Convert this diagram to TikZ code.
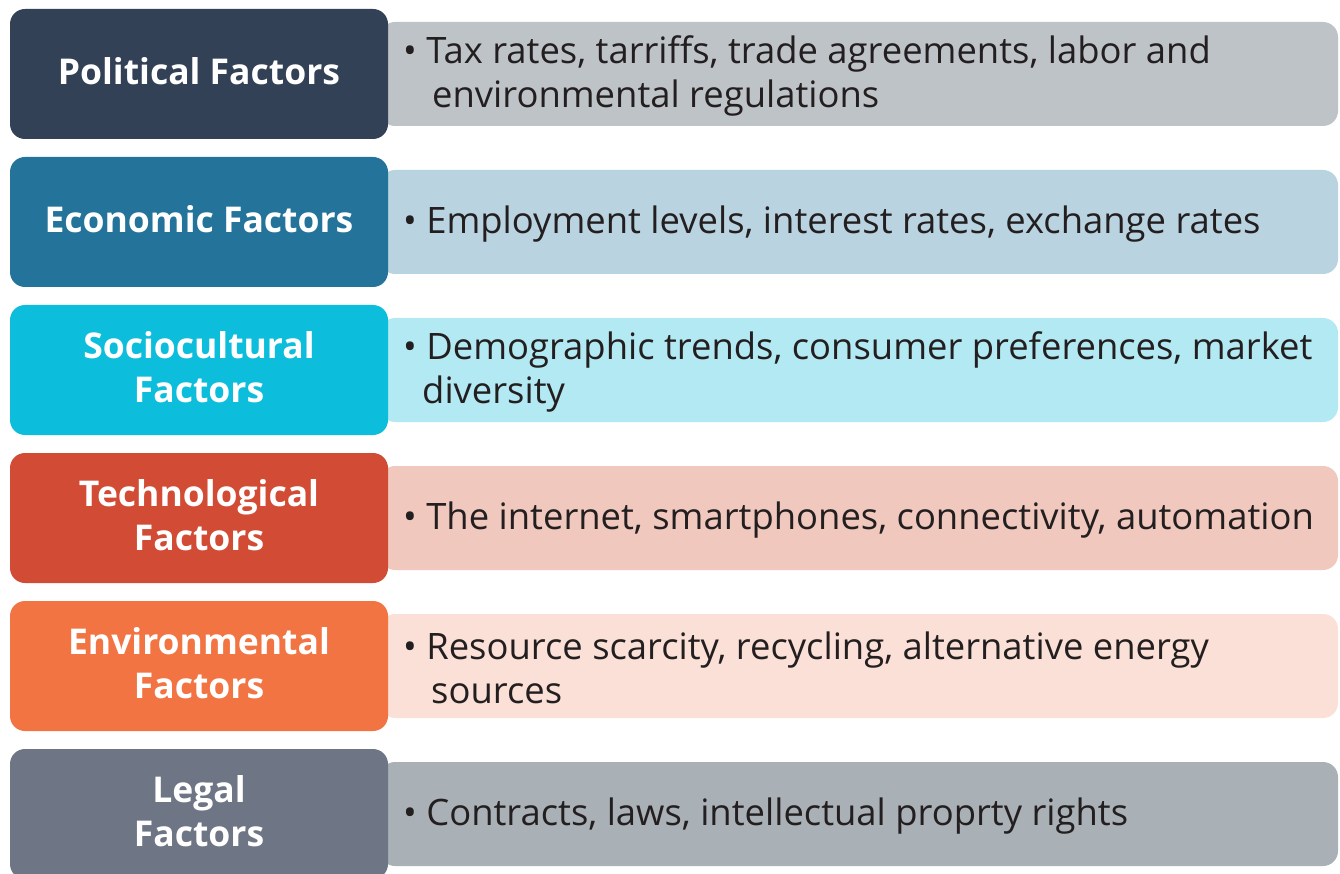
\documentclass[tikz,border=0pt]{standalone}
\usepackage{fontspec}
\setmainfont{Open Sans}
\definecolor{polDark}{HTML}{334156}
\definecolor{polLight}{HTML}{BEC3C7}
\definecolor{ecoDark}{HTML}{23739A}
\definecolor{ecoLight}{HTML}{B9D3E0}
\definecolor{socDark}{HTML}{0DBEDC}
\definecolor{socLight}{HTML}{B3E9F3}
\definecolor{tecDark}{HTML}{D24B34}
\definecolor{tecLight}{HTML}{F0C8BD}
\definecolor{envDark}{HTML}{F27442}
\definecolor{envLight}{HTML}{FAE0D6}
\definecolor{legDark}{HTML}{6E7685}
\definecolor{legLight}{HTML}{A9B1B6}
\definecolor{bodyText}{HTML}{231F20}
\begin{document}
\begin{tikzpicture}[x=1pt, y=-1pt,
        factor/.style={rounded corners=15pt, minimum width=378pt, minimum height=130pt,
            inner sep=0pt, align=center, text=white,
            font=\fontsize{35.5}{44}\selectfont\bfseries},
        detailbox/.style={rounded corners=15pt, minimum width=958pt, minimum height=104pt,
            inner sep=0pt},
        detail/.style={anchor=west, align=left, inner sep=0pt, text=bodyText,
            font=\fontsize{36.4}{44}\selectfont}
    ]
    \useasboundingbox (0,0) rectangle (1340,874);

    % Fasce chiare (dietro)
    \node[detailbox, fill=polLight] (polbox) at (859,74) {};
    \node[detailbox, fill=ecoLight] (ecobox) at (859,222) {};
    \node[detailbox, fill=socLight] (socbox) at (859,370) {};
    \node[detailbox, fill=tecLight] (tecbox) at (859,518) {};
    \node[detailbox, fill=envLight] (envbox) at (859,666) {};
    \node[detailbox, fill=legLight] (legbox) at (859,814) {};

    % Etichette dei fattori
    \node[factor, fill=polDark] (pol) at (199,74) {};
    \node[factor, fill=ecoDark] (eco) at (199,222) {};
    \node[factor, fill=socDark] (soc) at (199,370) {};
    \node[factor, fill=tecDark] (tec) at (199,518) {};
    \node[factor, fill=envDark] (env) at (199,666) {};
    \node[factor, fill=legDark] (leg) at (199,814) {};
    \node[factor, draw=none, fill=none] (pollabel) at (199,71) {Political Factors};
    \node[factor, draw=none, fill=none] (ecolabel) at (199,219) {Economic Factors};
    \node[factor, draw=none, fill=none] (soclabel) at (199,367) {Sociocultural\\Factors};
    \node[factor, draw=none, fill=none] (teclabel) at (199,515) {Technological\\Factors};
    \node[factor, draw=none, fill=none] (envlabel) at (199,663) {Environmental\\Factors};
    \node[factor, draw=none, fill=none] (leglabel) at (199,811) {Legal\\Factors};

    % Testi puntati
    \node[detail] (poltext) at (403,76) {\textbullet\ Tax rates, tarriffs, trade agreements, labor and\\\hspace*{29pt}environmental regulations};
    \node[detail] (ecotext) at (403,224) {\textbullet\ Employment levels, interest rates, exchange rates};
    \node[detail] (soctext) at (403,372) {\textbullet\ Demographic trends, consumer preferences, market\\\hspace*{19pt}diversity};
    \node[detail] (tectext) at (403,520) {\textbullet\ The internet, smartphones, connectivity, automation};
    \node[detail] (envtext) at (403,668) {\textbullet\ Resource scarcity, recycling, alternative energy\\\hspace*{28pt}sources};
    \node[detail] (legtext) at (403,816) {\textbullet\ Contracts, laws, intellectual proprty rights};
\end{tikzpicture}
\end{document}
